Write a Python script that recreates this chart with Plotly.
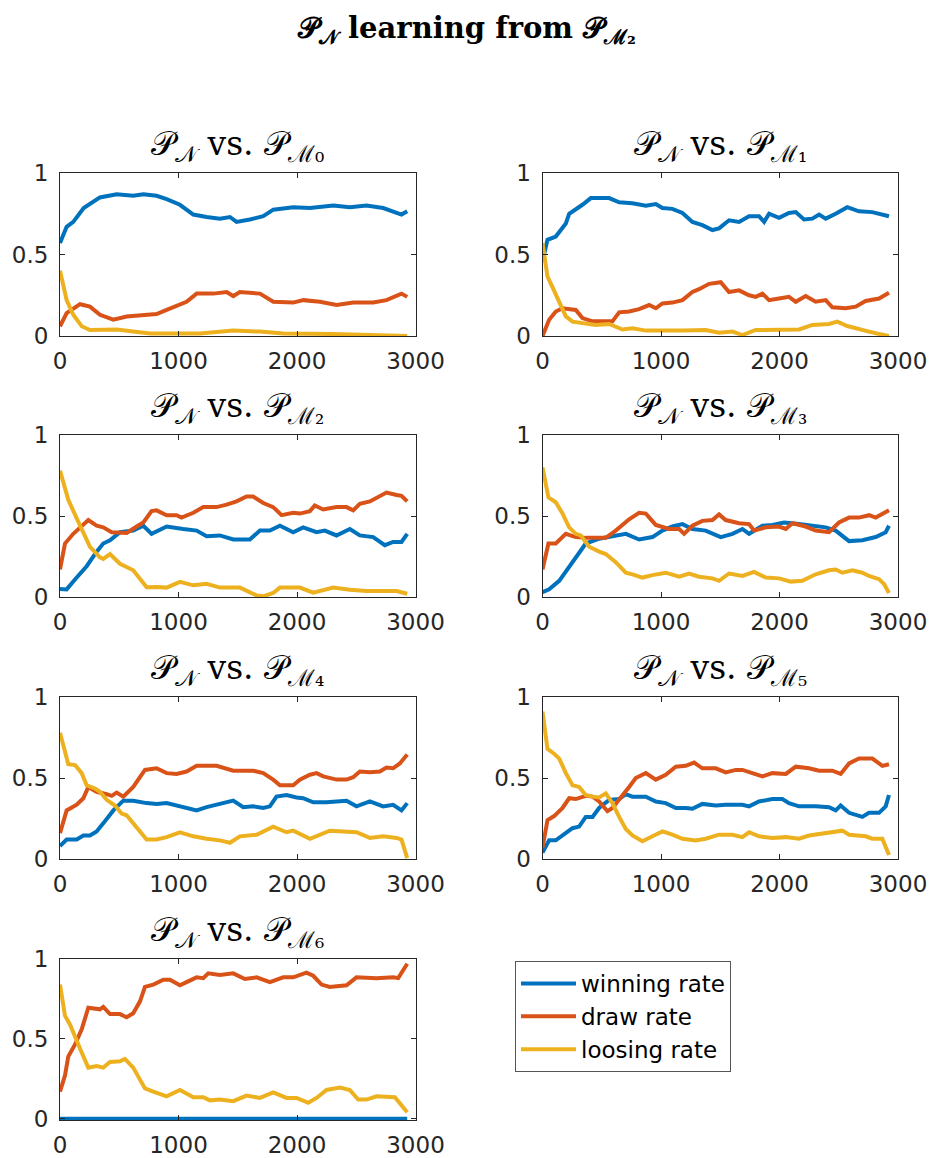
import plotly.graph_objects as go

# Rolling rates of P_N against each opponent P_M0 .. P_M6, as (game, rate) pairs.
m0_win = [(0, .57), (56, .67), (112, .70), (200, .785), (337, .85), (478, .87), (618, .86), (703, .87),
          (815, .86), (900, .84), (1012, .805), (1125, .745), (1237, .73), (1349, .72), (1434, .73),
          (1490, .70), (1602, .715), (1715, .735), (1800, .775), (1968, .79), (2109, .785), (2306, .80),
          (2446, .79), (2587, .80), (2727, .785), (2882, .745), (2930, .765)]
m0_draw = [(0, .06), (56, .14), (169, .195), (253, .18), (337, .13), (450, .10), (562, .12), (703, .13),
           (815, .135), (900, .16), (1068, .21), (1153, .26), (1293, .26), (1406, .27), (1462, .245),
           (1518, .27), (1687, .26), (1800, .21), (1968, .205), (2053, .22), (2193, .21), (2334, .19),
           (2475, .205), (2643, .205), (2755, .22), (2882, .26), (2930, .24)]
m0_lose = [(0, .40), (56, .22), (112, .13), (183, .06), (253, .037), (478, .04), (618, .027), (759, .016),
           (1181, .016), (1462, .033), (1687, .027), (1884, .016), (2306, .012), (2930, 0.0)]

m1_win = [(0, .46), (42, .59), (112, .61), (197, .69), (225, .75), (281, .775), (337, .805), (408, .846),
          (562, .846), (647, .82), (759, .815), (872, .80), (956, .81), (1012, .785), (1096, .78),
          (1181, .755), (1265, .70), (1349, .68), (1434, .65), (1490, .66), (1574, .71), (1659, .70),
          (1743, .735), (1827, .735), (1870, .70), (1912, .75), (1996, .725), (2080, .755), (2137, .76),
          (2207, .715), (2277, .72), (2334, .745), (2390, .72), (2474, .75), (2572, .79), (2671, .765),
          (2783, .76), (2924, .735)]
m1_draw = [(0, .0), (56, .10), (112, .15), (169, .17), (281, .16), (337, .11), (422, .09), (534, .09),
           (590, .09), (647, .145), (731, .15), (815, .165), (900, .19), (956, .17), (1012, .20),
           (1096, .205), (1181, .22), (1265, .27), (1321, .287), (1406, .32), (1504, .33), (1574, .27),
           (1659, .28), (1743, .25), (1799, .24), (1856, .26), (1912, .22), (1996, .23), (2080, .24),
           (2137, .21), (2221, .245), (2305, .21), (2390, .22), (2446, .176), (2558, .17), (2643, .18),
           (2727, .215), (2840, .23), (2924, .265)]
m1_lose = [(0, .57), (42, .365), (84, .30), (141, .21), (197, .12), (253, .088), (337, .082), (450, .068),
           (562, .074), (675, .04), (759, .047), (872, .033), (1181, .033), (1377, .037), (1490, .02),
           (1603, .027), (1687, .006), (1799, .037), (2165, .04), (2277, .068), (2418, .074), (2488, .088),
           (2572, .061), (2671, .04), (2755, .027), (2840, .012), (2924, 0.0)]

m2_win = [(0, .05), (56, .047), (141, .12), (225, .19), (309, .28), (365, .33), (422, .35), (506, .40),
          (618, .41), (703, .44), (773, .39), (900, .435), (1040, .42), (1153, .41), (1237, .375),
          (1349, .38), (1462, .355), (1602, .355), (1687, .41), (1771, .41), (1856, .44), (1968, .40),
          (2052, .43), (2165, .40), (2235, .41), (2333, .38), (2446, .42), (2530, .38), (2643, .37),
          (2741, .32), (2811, .34), (2882, .34), (2930, .39)]
m2_draw = [(0, .17), (42, .33), (112, .39), (197, .45), (239, .475), (309, .44), (365, .43), (436, .40),
           (562, .395), (647, .435), (703, .46), (773, .53), (815, .535), (900, .505), (984, .505),
           (1026, .49), (1125, .52), (1209, .555), (1321, .555), (1406, .57), (1490, .59), (1574, .62),
           (1630, .62), (1715, .58), (1799, .555), (1870, .505), (1968, .52), (2024, .515), (2109, .53),
           (2150, .565), (2221, .54), (2334, .555), (2418, .555), (2474, .535), (2530, .575), (2615, .59),
           (2699, .625), (2755, .645), (2840, .63), (2882, .625), (2930, .59)]
m2_lose = [(0, .78), (42, .665), (70, .60), (141, .485), (197, .39), (253, .31), (337, .245), (365, .235),
           (422, .265), (506, .205), (618, .165), (675, .115), (731, .06), (815, .062), (900, .058),
           (1012, .093), (1125, .072), (1237, .082), (1349, .058), (1518, .058), (1659, .01), (1715, .004),
           (1799, .025), (1856, .058), (2024, .058), (2137, .027), (2306, .058), (2446, .045),
           (2587, .037), (2840, .037), (2930, .02)]

m3_win = [(0, .03), (56, .047), (141, .10), (225, .19), (309, .28), (365, .33), (478, .36), (590, .375),
          (703, .39), (815, .355), (928, .37), (1012, .41), (1096, .435), (1181, .45), (1265, .42),
          (1377, .41), (1504, .37), (1603, .39), (1687, .42), (1743, .39), (1856, .44), (1940, .445),
          (2038, .46), (2165, .45), (2277, .44), (2390, .43), (2474, .41), (2587, .345), (2699, .35),
          (2812, .37), (2896, .40), (2924, .44)]
m3_draw = [(0, .17), (50, .33), (112, .33), (197, .39), (281, .37), (365, .365), (534, .365), (618, .41),
           (731, .48), (815, .52), (872, .515), (956, .445), (1068, .42), (1153, .42), (1195, .39),
           (1265, .44), (1349, .47), (1434, .475), (1490, .51), (1546, .475), (1659, .455), (1743, .45),
           (1785, .41), (1884, .43), (1996, .435), (2053, .42), (2109, .455), (2221, .435), (2306, .41),
           (2418, .40), (2502, .46), (2587, .49), (2671, .49), (2756, .505), (2812, .49), (2868, .515),
           (2924, .535)]
m3_lose = [(0, .80), (50, .615), (112, .585), (169, .515), (225, .43), (281, .39), (323, .38), (394, .31),
           (478, .28), (534, .265), (618, .215), (703, .15), (759, .14), (843, .12), (928, .135),
           (1040, .15), (1153, .125), (1237, .145), (1321, .125), (1434, .115), (1490, .10), (1574, .145),
           (1687, .13), (1785, .155), (1884, .12), (1996, .115), (2095, .095), (2193, .10), (2305, .14),
           (2418, .165), (2474, .17), (2530, .15), (2615, .165), (2699, .15), (2755, .13), (2840, .11),
           (2882, .08), (2924, .025)]

m4_win = [(0, .08), (56, .12), (141, .12), (197, .145), (253, .145), (309, .17), (365, .22), (450, .30),
          (534, .36), (618, .36), (731, .345), (815, .34), (900, .345), (1012, .325), (1153, .30),
          (1237, .32), (1349, .34), (1462, .36), (1546, .32), (1630, .325), (1715, .315), (1771, .325),
          (1827, .385), (1912, .395), (1996, .38), (2052, .375), (2137, .35), (2249, .35), (2418, .36),
          (2502, .325), (2615, .355), (2727, .325), (2811, .335), (2882, .30), (2930, .345)]
m4_draw = [(0, .16), (56, .30), (141, .335), (197, .375), (239, .445), (309, .415), (394, .40), (436, .39),
           (478, .41), (534, .385), (618, .445), (717, .55), (815, .56), (900, .53), (984, .525),
           (1068, .54), (1153, .575), (1321, .575), (1462, .545), (1630, .545), (1715, .53), (1799, .49),
           (1856, .455), (1968, .455), (2024, .49), (2109, .52), (2165, .53), (2221, .51), (2334, .49),
           (2418, .49), (2474, .505), (2530, .54), (2615, .535), (2699, .54), (2755, .565), (2811, .56),
           (2868, .59), (2930, .645)]
m4_lose = [(0, .78), (42, .65), (70, .585), (127, .58), (183, .53), (225, .455), (295, .435), (337, .415),
           (394, .365), (464, .33), (520, .28), (562, .27), (647, .19), (731, .12), (815, .12), (900, .135),
           (1012, .165), (1125, .14), (1237, .125), (1349, .115), (1434, .10), (1518, .14), (1659, .15),
           (1799, .20), (1912, .165), (1968, .175), (2109, .125), (2165, .14), (2277, .175), (2390, .17),
           (2502, .165), (2615, .13), (2727, .14), (2840, .13), (2882, .12), (2930, .005)]

m5_win = [(0, .04), (56, .115), (112, .115), (197, .16), (253, .19), (309, .20), (365, .26), (422, .26),
          (478, .315), (562, .365), (647, .37), (703, .40), (759, .385), (872, .385), (956, .355),
          (1040, .345), (1125, .315), (1209, .315), (1265, .31), (1349, .34), (1462, .33), (1546, .335),
          (1687, .335), (1743, .325), (1827, .355), (1940, .37), (2024, .37), (2080, .345), (2165, .325),
          (2305, .325), (2418, .32), (2474, .30), (2516, .33), (2587, .285), (2699, .26), (2755, .285),
          (2840, .285), (2896, .325), (2924, .395)]
m5_draw = [(0, .07), (42, .24), (98, .265), (169, .315), (225, .375), (281, .37), (365, .39), (422, .385),
           (478, .355), (548, .295), (590, .315), (647, .365), (731, .445), (787, .50), (872, .53),
           (956, .49), (1040, .52), (1125, .57), (1209, .575), (1279, .595), (1349, .56), (1462, .56),
           (1546, .535), (1631, .55), (1687, .55), (1771, .53), (1856, .51), (1940, .53), (2053, .525),
           (2137, .57), (2249, .56), (2334, .545), (2446, .545), (2516, .525), (2587, .59), (2671, .62),
           (2783, .62), (2840, .59), (2868, .575), (2924, .585)]
m5_lose = [(0, .91), (42, .68), (98, .65), (141, .62), (197, .53), (253, .455), (309, .445), (365, .395),
           (422, .385), (478, .38), (534, .405), (590, .345), (647, .26), (703, .185), (759, .145),
           (843, .11), (928, .14), (1012, .17), (1096, .15), (1181, .125), (1293, .115), (1377, .125),
           (1490, .15), (1603, .15), (1687, .135), (1743, .165), (1827, .14), (1940, .13), (2053, .135),
           (2165, .125), (2249, .145), (2362, .155), (2446, .165), (2530, .175), (2587, .15), (2727, .14),
           (2783, .125), (2868, .125), (2924, .025)]

m6_win = [(0, 0.0), (1000, 0.0), (2000, 0.0), (2930, 0.0)]
m6_draw = [(0, .17), (42, .27), (70, .39), (127, .465), (183, .56), (239, .695), (337, .685), (365, .70),
           (422, .655), (506, .655), (562, .635), (618, .66), (675, .735), (717, .825), (787, .84),
           (872, .87), (928, .87), (1012, .835), (1068, .855), (1153, .885), (1209, .88), (1251, .91),
           (1349, .90), (1462, .91), (1560, .875), (1659, .885), (1771, .855), (1884, .885), (1968, .885),
           (2080, .915), (2137, .895), (2207, .84), (2277, .825), (2418, .835), (2502, .885), (2587, .88),
           (2671, .88), (2812, .885), (2854, .88), (2930, .97)]
m6_lose = [(0, .84), (42, .645), (84, .59), (127, .52), (183, .415), (239, .32), (309, .33), (365, .32),
           (422, .355), (506, .36), (548, .375), (618, .32), (675, .24), (717, .19), (787, .17), (900, .14),
           (1012, .18), (1125, .135), (1209, .135), (1265, .115), (1349, .12), (1462, .11), (1574, .145),
           (1687, .13), (1799, .165), (1912, .13), (1996, .13), (2095, .10), (2165, .13), (2249, .18),
           (2362, .195), (2446, .18), (2516, .12), (2587, .12), (2671, .14), (2826, .135), (2930, .04)]

opponents = ["ℳ₀", "ℳ₁", "ℳ₂", "ℳ₃", "ℳ₄", "ℳ₅", "ℳ₆"]
series_names = ["winning rate", "draw rate", "loosing rate"]
series_colors = ["#0072BD", "#D95319", "#EDB120"]
panels = [
    (m0_win, m0_draw, m0_lose),
    (m1_win, m1_draw, m1_lose),
    (m2_win, m2_draw, m2_lose),
    (m3_win, m3_draw, m3_lose),
    (m4_win, m4_draw, m4_lose),
    (m5_win, m5_draw, m5_lose),
    (m6_win, m6_draw, m6_lose),
]
x_ticks = [0, 1000, 2000, 3000]
y_ticks = [0, 0.5, 1]

W, H = 932, 1158
col_px = [(60, 415.5), (542.5, 898)]
row_px = [(173, 336), (435, 597), (697, 859), (959, 1120)]

AXIS_COLOR = "#262626"
TICK_FONT = dict(family="DejaVu Sans", size=23, color=AXIS_COLOR)
TITLE_FONT = dict(family="DejaVu Serif", size=33, color="black")

fig = go.Figure()
layout = dict(
    template="none",
    width=W, height=H,
    margin=dict(l=0, r=0, t=0, b=0, pad=0, autoexpand=False),
    paper_bgcolor="white", plot_bgcolor="white",
    showlegend=True,
    annotations=[],
)

for i, (series, opp) in enumerate(zip(panels, opponents)):
    r, c = divmod(i, 2)
    x0, x1 = col_px[c]
    top, bot = row_px[r]
    n = "" if i == 0 else str(i + 1)
    xref, yref = "x" + n, "y" + n
    # the last panel's winning rate sits on zero; leave a sliver so the line isn't half clipped
    y_lo = -0.008 if i == 6 else 0
    layout["xaxis" + n] = dict(
        domain=[x0 / W, x1 / W], anchor=yref, range=[0, 3000], automargin=False,
        tickvals=x_ticks, ticktext=[str(v) for v in x_ticks],
        ticks="inside", ticklen=5, tickcolor=AXIS_COLOR, tickwidth=1,
        showline=True, linecolor=AXIS_COLOR, linewidth=1, mirror="ticks",
        showgrid=False, zeroline=False, tickfont=TICK_FONT, ticklabelstandoff=4,
    )
    layout["yaxis" + n] = dict(
        domain=[1 - bot / H, 1 - top / H], anchor=xref, range=[y_lo, 1], automargin=False,
        tickvals=y_ticks, ticktext=["0", "0.5", "1"],
        ticks="inside", ticklen=5, tickcolor=AXIS_COLOR, tickwidth=1,
        showline=True, linecolor=AXIS_COLOR, linewidth=1, mirror="ticks",
        showgrid=False, zeroline=False, tickfont=TICK_FONT, ticklabelstandoff=6,
    )
    for s, (pts, name, color) in enumerate(zip(series, series_names, series_colors)):
        fig.add_trace(go.Scatter(
            x=[p[0] for p in pts], y=[p[1] for p in pts],
            mode="lines", name=name, legendgroup=name, showlegend=(i == 0),
            line=dict(color=color, width=4),
            xaxis=xref, yaxis=yref,
        ))
    layout["annotations"].append(dict(
        text=f"𝒫<sub>𝒩</sub> vs. 𝒫<sub>{opp}</sub>",
        xref="paper", yref="paper", x=(x0 + x1) / 2 / W, y=1 - (top - 4) / H,
        xanchor="center", yanchor="bottom", showarrow=False, font=TITLE_FONT,
    ))

layout["annotations"].append(dict(
    text="<b>𝒫<sub>𝒩</sub> learning from 𝒫<sub>ℳ₂</sub></b>",
    xref="paper", yref="paper", x=0.5, y=1 - 30 / H,
    xanchor="center", yanchor="middle", showarrow=False,
    font=dict(family="DejaVu Serif", size=29, color="black"),
))

layout["legend"] = dict(
    x=515 / W, y=1 - 961 / H, xanchor="left", yanchor="top",
    bgcolor="white", bordercolor="#555555", borderwidth=1,
    font=dict(family="DejaVu Sans", size=23, color="black"),
    itemwidth=55, tracegroupgap=0,
)

fig.update_layout(**layout)
fig.write_html("out.html")
